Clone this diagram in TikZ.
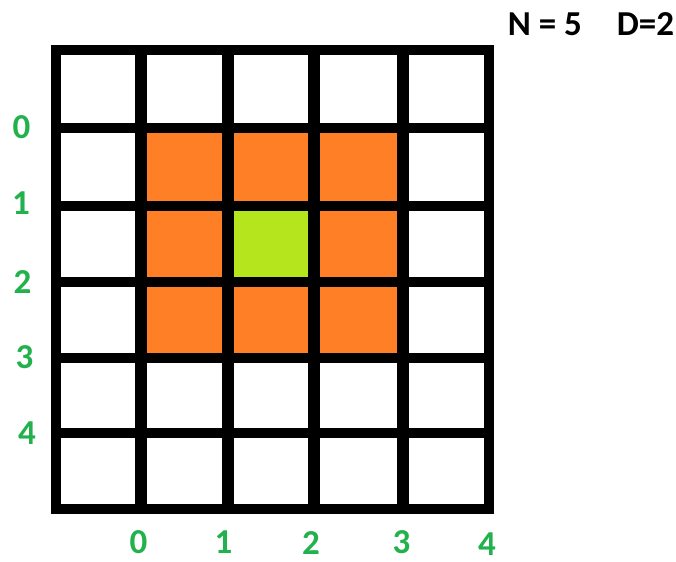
\documentclass[tikz,border=0pt]{standalone}
\usepackage{fontspec}
\setmainfont{Carlito}
\usepackage{xcolor}
\usetikzlibrary{positioning}
\definecolor{nearorange}{RGB}{255,127,39}
\definecolor{centrelime}{RGB}{181,230,29}
\definecolor{idxgreen}{RGB}{34,177,76}
\tikzset{%
  % cells
  near/.style={fill=nearorange},
  centre/.style={fill=centrelime},
  % grid lines
  vline/.style={line width=6pt},
  hline/.style={line width=4.6pt},
  frame/.style={line width=5pt},
  % labels
  idx/.style={font=\fontsize{17.5}{20}\selectfont\bfseries, text=idxgreen, inner sep=0pt},
  info/.style={font=\fontsize{17.5}{20}\selectfont\bfseries, inner sep=0pt},
}

\begin{document}
\begin{tikzpicture}[x=0.5pt, y=-0.5pt]
  \useasboundingbox (0,0) rectangle (676,562);

  % coloured cells
  \fill[near] (141,128) rectangle (402.5,358);
  \fill[centre] (227.5,206) rectangle (314,282);

  % grid
  \foreach \x in {141,227.5,314,402.5}
    \draw[vline] (\x,50) -- (\x,509);
  \foreach \y in {128,206,282,358,433}
    \draw[hline] (55.5,\y) -- (489,\y);
  \draw[frame] (55.5,50) rectangle (489,509);

  % row indices
  \foreach \i/\x/\y in {0/21.5/127, 1/21/203, 2/22.5/282, 3/24.5/357, 4/27/433}
    \node[idx] (row\i) at (\x,\y) {\i};
  % column indices
  \foreach \i/\x/\y in {0/138.5/542, 1/223.5/542, 2/311/543, 3/401.5/542, 4/487/544.5}
    \node[idx] (col\i) at (\x,\y) {\i};

  \node[info] (nd) at (591,24) {N = 5\hspace{1em}D=2};
\end{tikzpicture}
\end{document}
